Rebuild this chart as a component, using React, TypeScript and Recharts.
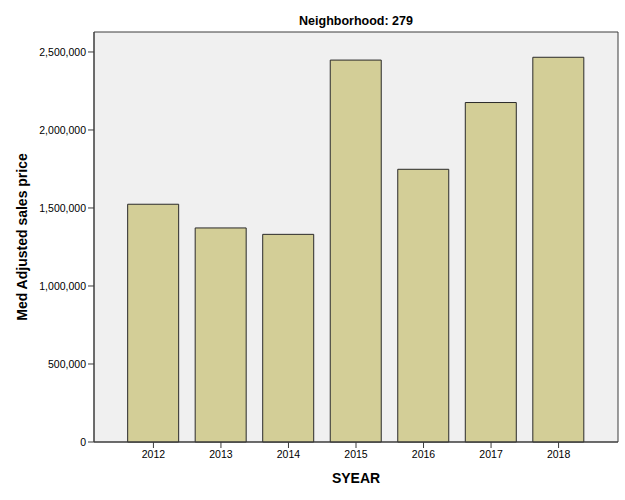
import React from 'react';
import { BarChart, Bar, XAxis, YAxis, CartesianGrid, ReferenceArea } from 'recharts';

// values
const years = [2012, 2013, 2014, 2015, 2016, 2017, 2018];
const medPrice = [1524000, 1372000, 1331000, 2448000, 1748000, 2176000, 2466000];
const yTicks = [0, 500000, 1000000, 1500000, 2000000, 2500000];
const yMax = 2628000;
const xDomain = [2011.12, 2018.88];

const data = years.map((year, i) => ({ year, price: medPrice[i] }));

const FONT = '"Liberation Sans", Arial, sans-serif';
const AXIS = '#3c3c3c';

const fmt = (v: number) => v.toLocaleString('en-US');

const App: React.FC = () => {
  return (
    <div style={{ position: 'absolute', left: 0, top: 0, width: 625, height: 500, background: '#fff', fontFamily: FONT }}>
      <BarChart
        width={625}
        height={500}
        data={data}
        margin={{ top: 32, right: 7, bottom: 13, left: 0 }}
        barSize={51}
      >
        <CartesianGrid fill="#F0F0F0" horizontal={false} vertical={false} />
        <XAxis
          dataKey="year"
          type="number"
          domain={xDomain}
          ticks={years}
          interval={0}
          height={45}
          tickSize={6}
          tickMargin={3}
          stroke={AXIS}
          tick={{ fill: '#000', fontSize: 10.5, fontFamily: FONT }}
          label={{ value: 'SYEAR', position: 'insideBottom', offset: 4, fill: '#000', fontSize: 14, fontWeight: 'bold', fontFamily: FONT }}
        />
        <YAxis
          width={94}
          domain={[0, yMax]}
          ticks={yTicks}
          tickFormatter={fmt}
          tickSize={6}
          stroke={AXIS}
          tick={{ fill: '#000', fontSize: 10.5, fontFamily: FONT }}
          label={{
            content: ({ viewBox }: any) => (
              <text
                transform={`translate(22, ${viewBox.y + viewBox.height / 2}) rotate(-90)`}
                textAnchor="middle"
                dominantBaseline="central"
                fill="#000"
                fontSize={14}
                fontWeight="bold"
                fontFamily={FONT}
              >
                Med Adjusted sales price
              </text>
            ),
          }}
        />
        {/* frame round the plot area, with the title above it */}
        <ReferenceArea
          y1={0}
          y2={yMax}
          fill="none"
          stroke={AXIS}
          strokeWidth={1}
          ifOverflow="visible"
          label={{ value: 'Neighborhood: 279', position: 'top', offset: 7, fill: '#000', fontSize: 12.5, fontWeight: 'bold', fontFamily: FONT }}
        />
        <Bar dataKey="price" fill="#D3CE97" stroke="#2a2a2a" strokeWidth={1} isAnimationActive={false} />
      </BarChart>
    </div>
  );
};

export default App;
